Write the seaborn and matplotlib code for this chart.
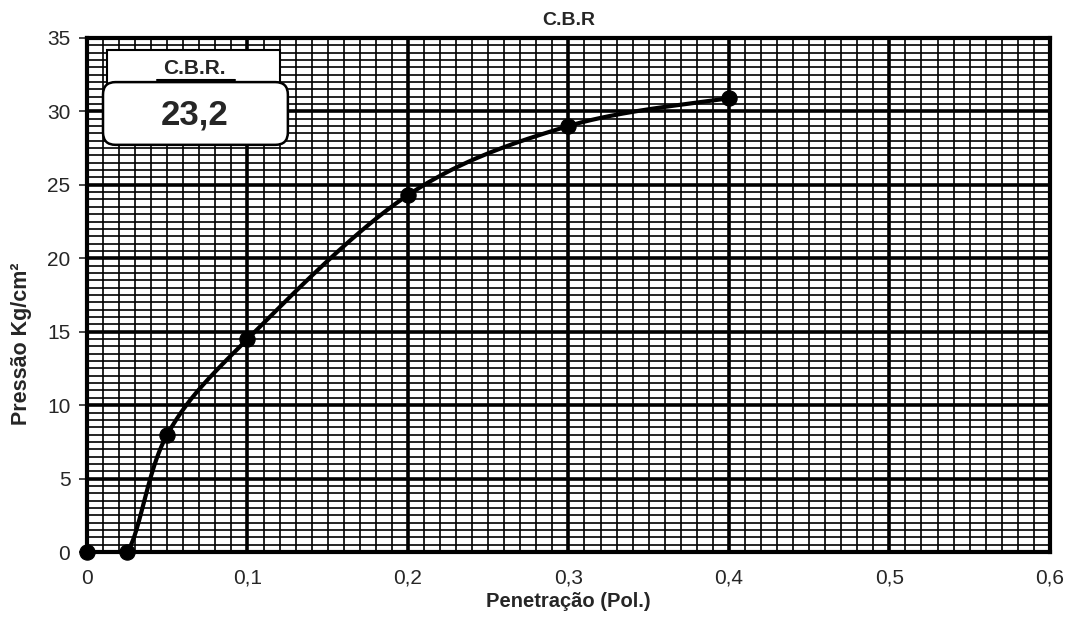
import numpy as np
import pandas as pd
import matplotlib.pyplot as plt
import seaborn as sns
from matplotlib.patches import FancyBboxPatch, Rectangle
from matplotlib.ticker import FuncFormatter, MultipleLocator

# data
penetracao = [0.0, 0.025, 0.05, 0.1, 0.2, 0.3, 0.4]
pressao = [0.0, 0.0, 8.0, 14.5, 24.3, 29.0, 30.9]
cbr_valor = "23,2"

x_ticks = [0, 0.1, 0.2, 0.3, 0.4, 0.5, 0.6]
y_ticks = [0, 5, 10, 15, 20, 25, 30, 35]


def smooth_curve(xs, ys, n=40):
    # Excel-style smoothed line (Bezier, tangent/6)
    p = np.column_stack([xs, ys]).astype(float)
    pts = [p[0]] + list(p) + [p[-1]]
    out = []
    t = np.linspace(0, 1, n)[:, None]
    for i in range(1, len(pts) - 2):
        p0, p1, p2, p3 = pts[i - 1], pts[i], pts[i + 1], pts[i + 2]
        c1 = p1 + (p2 - p0) / 6
        c2 = p2 - (p3 - p1) / 6
        seg = ((1 - t) ** 3) * p1 + 3 * ((1 - t) ** 2) * t * c1 + 3 * (1 - t) * t ** 2 * c2 + t ** 3 * p2
        out.append(seg)
    out = np.vstack(out)
    return out[:, 0], out[:, 1]


sns.set_style("white")
plt.rcParams['font.family'] = ['Liberation Sans', 'DejaVu Sans']

fig = plt.figure(figsize=(10.77, 6.21), dpi=100)
ax = fig.add_axes([0.0808, 0.111, 0.894, 0.828])

sx, sy = smooth_curve(penetracao, pressao)
curva = pd.DataFrame({"x": sx, "y": sy})
pontos = pd.DataFrame({"x": penetracao, "y": pressao})

sns.lineplot(data=curva, x="x", y="y", sort=False, color="black", linewidth=3.0,
             ax=ax, zorder=5)
sns.scatterplot(data=pontos, x="x", y="y", color="black", s=120, edgecolor="black",
                ax=ax, zorder=6, clip_on=False)

ax.set_xlim(0, 0.6)
ax.set_ylim(0, 35)
ax.set_xticks(x_ticks)
ax.set_yticks(y_ticks)
ax.xaxis.set_minor_locator(MultipleLocator(0.01))
ax.yaxis.set_minor_locator(MultipleLocator(0.5))
ax.grid(which="major", color="black", linewidth=2.6)
ax.grid(which="minor", color="black", linewidth=1.2)
ax.set_axisbelow(True)

fmt = FuncFormatter(lambda v, pos: ("%g" % round(v, 2)).replace(".", ","))
ax.xaxis.set_major_formatter(fmt)
ax.yaxis.set_major_formatter(fmt)
ax.tick_params(axis="y", which="major", direction="out", length=6, width=1.2,
               left=True, labelsize=15, pad=6)
ax.tick_params(axis="x", which="major", length=0, labelsize=15, pad=12)
ax.tick_params(which="minor", length=0)

for s in ax.spines.values():
    s.set_color("black")
    s.set_linewidth(3)

ax.set_xlabel("Penetração (Pol.)", fontsize=14.5, fontweight="bold", labelpad=3)
ax.set_ylabel("Pressão Kg/cm²", fontsize=15.5, fontweight="bold")
ax.yaxis.set_label_coords(-0.057, 0.405)
ax.set_title("C.B.R", fontsize=14, fontweight="bold", pad=9)

# C.B.R. label boxes (axes fraction coords)
ax.add_patch(Rectangle((0.0208, 0.88), 0.18, 0.097, transform=ax.transAxes,
                       facecolor="white", edgecolor="black", linewidth=1.5, zorder=7))
ax.text(0.111, 0.940, "C.B.R.", transform=ax.transAxes, ha="center", va="center",
        fontsize=15, fontweight="bold", zorder=8)
ax.plot([0.073, 0.154], [0.919, 0.919], transform=ax.transAxes, color="black",
        linewidth=1.5, zorder=8)
ax.add_patch(FancyBboxPatch((0.0166, 0.792), 0.192, 0.122, transform=ax.transAxes,
                            boxstyle="round,pad=0.0,rounding_size=0.013",
                            mutation_aspect=1.87,
                            facecolor="white", edgecolor="black", linewidth=1.8,
                            zorder=7.5))
ax.text(0.112, 0.850, cbr_valor, transform=ax.transAxes, ha="center", va="center",
        fontsize=25, fontweight="bold", zorder=8)

fig.savefig("out.png", dpi=100)
